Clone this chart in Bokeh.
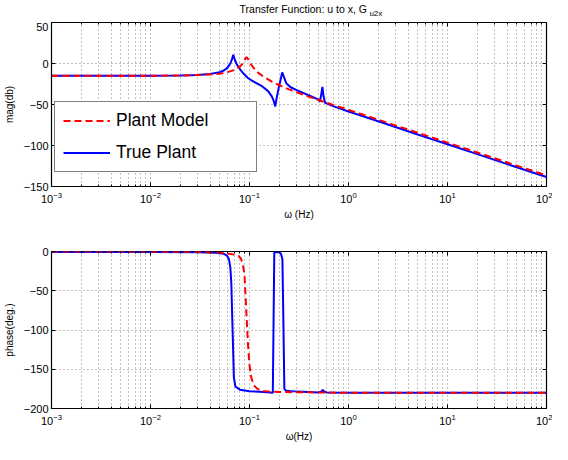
from bokeh.plotting import figure
from bokeh.models import (Range1d, FixedTicker, LogAxis, LinearAxis,
                          Legend, LegendItem, ColumnDataSource)
from bokeh.core.properties import value
from bokeh.layouts import column
from bokeh.embed import file_html
from bokeh.resources import INLINE

FONT = "Liberation Sans"

# ---------------- data ----------------
X_TICKS = [1e-3, 1e-2, 1e-1, 1e0, 1e1, 1e2]
MAG_TICKS = [-150, -100, -50, 0, 50]
PHASE_TICKS = [-200, -150, -100, -50, 0]

TITLE_MAIN = "Transfer Function:  u to x, G"
TITLE_SUB = "u2x"

model_mag_f = [0.001, 0.01, 0.02, 0.03, 0.04, 0.05, 0.06, 0.07, 0.08, 0.085,
               0.09, 0.0933, 0.097, 0.1, 0.11, 0.12, 0.14, 0.17, 0.2, 0.25,
               0.3, 0.4, 0.5, 0.7, 1, 2, 5, 10, 20, 50, 100]
model_mag_db = [-15, -15, -14.6, -14, -13.3, -12.4, -10.5, -8, -3.7, -0.5,
                5, 7.7, 5, 1.5, -5.5, -10.5, -16.5, -22.5, -26.5, -31.5,
                -35, -40.5, -44.5, -50.5, -56.5, -68.5, -84.5, -96.5, -108.5,
                -124.5, -136.5]

true_mag_f = [0.001, 0.01, 0.02, 0.03, 0.04, 0.05, 0.055, 0.06, 0.064, 0.0665,
              0.0685, 0.0705, 0.073, 0.077, 0.085, 0.097, 0.11, 0.135, 0.155,
              0.168, 0.176, 0.182, 0.188, 0.197, 0.207, 0.214, 0.222, 0.235,
              0.26, 0.3, 0.4, 0.5, 0.515, 0.53, 0.545, 0.56, 0.58, 0.7, 1, 2,
              5, 10, 20, 50, 100]
true_mag_db = [-15, -15, -14.7, -14.1, -12.8, -10.5, -8.5, -5, 0, 5,
               10.6, 6, 1, -4, -11, -18, -22, -28, -34,
               -40, -46, -52.5, -42, -30, -19, -10.8, -16, -24,
               -29, -32.5, -39, -44, -46.5, -38, -28.5, -40, -48, -52, -58.5,
               -70.5, -86.5, -98.5, -110.5, -126.5, -138.5]

model_ph_f = [0.001, 0.01, 0.03, 0.05, 0.06, 0.07, 0.078, 0.082, 0.086, 0.089,
              0.092, 0.0965, 0.1, 0.104, 0.11, 0.12, 0.134, 0.16, 0.2, 0.5, 1,
              100]
model_ph_deg = [0, -0.1, -0.5, -1.5, -2.5, -4, -6, -9, -18, -29,
                -66, -118, -145, -160, -170, -175, -177.5, -178.5, -179, -179.5,
                -180, -180]

true_ph_f = [0.001, 0.01, 0.03, 0.045, 0.055, 0.059, 0.062, 0.064, 0.0655,
             0.0675, 0.0695, 0.072, 0.08, 0.1, 0.14, 0.172, 0.175, 0.178, 0.2,
             0.208, 0.215, 0.22, 0.225, 0.235, 0.3, 0.5, 0.54, 0.55, 0.56,
             0.6, 1, 100]
true_ph_deg = [-0.5, -0.7, -1, -1.5, -3, -5, -10, -20, -40,
               -100, -160, -172, -176, -178, -179, -180, -90, -1, -1,
               -3, -10, -90, -175, -177.5, -178.5, -179.5, -178, -176, -178,
               -179.5, -180, -180]

MINOR_X = [d * k for d in X_TICKS[:-1] for k in range(2, 10)]

GRID_COLOR = "#555555"
W = 552


def make_fig(height, top, bottom, yr, yticks, ylabel, xlabel):
    p = figure(width=W, height=height, x_axis_type="log",
               x_range=Range1d(1e-3, 1e2), y_range=Range1d(*yr),
               output_backend="svg", toolbar_location=None,
               min_border_left=46, min_border_right=6,
               min_border_top=top, min_border_bottom=bottom)
    p.outline_line_color = "black"
    p.outline_line_width = 1.2

    xt = FixedTicker(ticks=X_TICKS, minor_ticks=MINOR_X)
    yt = FixedTicker(ticks=yticks)
    p.xaxis.ticker = xt
    p.yaxis.ticker = yt
    p.xgrid.ticker = xt
    p.ygrid.ticker = yt

    for g in (p.xgrid, p.ygrid):
        g.grid_line_color = GRID_COLOR
        g.grid_line_dash = "1 3"
        g.grid_line_width = 1
        g.grid_line_alpha = 0.75
    p.xgrid.minor_grid_line_color = GRID_COLOR
    p.xgrid.minor_grid_line_dash = "1 3"
    p.xgrid.minor_grid_line_alpha = 0.75

    for ax in (p.xaxis[0], p.yaxis[0]):
        ax.major_tick_in = 4
        ax.major_tick_out = 0
        ax.minor_tick_in = 2
        ax.minor_tick_out = 0
        ax.axis_line_color = "black"
        ax.major_tick_line_color = "black"
        ax.minor_tick_line_color = "black"
        ax.major_label_text_font = FONT
        ax.major_label_text_font_size = "11px"
        ax.major_label_text_color = "black"
        ax.axis_label_text_font = FONT
        ax.axis_label_text_font_size = "10px"
        ax.axis_label_text_font_style = "normal"
        ax.axis_label_text_color = "black"
    p.yaxis[0].minor_tick_line_color = None
    p.xaxis[0].major_label_standoff = 5
    p.yaxis[0].major_label_standoff = 3
    p.xaxis[0].axis_label_standoff = 3
    p.yaxis[0].axis_label_standoff = 6
    p.xaxis[0].axis_label = xlabel
    p.yaxis[0].axis_label = ylabel

    # mirrored inner ticks on the right and top edges (MATLAB box style)
    ax_r = LinearAxis(ticker=yt, major_label_text_font_size="1px",
                      major_label_text_alpha=0, major_label_standoff=0,
                      major_tick_in=4, major_tick_out=0,
                      minor_tick_line_color=None, axis_line_color=None)
    p.add_layout(ax_r, "right")
    ax_t = LogAxis(ticker=xt, major_label_text_font_size="1px",
                   major_label_text_alpha=0, major_label_standoff=0,
                   major_tick_in=4, major_tick_out=0,
                   minor_tick_in=2, minor_tick_out=0, axis_line_color=None)
    p.add_layout(ax_t, "above")
    return p


# ---------------- title strip ----------------
pt = figure(width=W, height=22, x_range=Range1d(0, W), y_range=Range1d(0, 22),
            output_backend="svg", toolbar_location=None,
            x_axis_location=None, y_axis_location=None, min_border=0)
pt.outline_line_color = None
pt.grid.visible = False
pt.text(x=[355], y=[13.5], text=[TITLE_MAIN], text_font=value(FONT),
        text_font_size="10.5px", text_align="right",
        text_baseline="alphabetic", text_color="black")
pt.text(x=[354.5], y=[9], text=[TITLE_SUB], text_font=value(FONT),
        text_font_size="8px", text_align="left",
        text_baseline="alphabetic", text_color="black")

# ---------------- magnitude plot ----------------
p1 = make_fig(204, 0, 40, (-150, 50), MAG_TICKS, "mag(db)", "ω (Hz)")
src_tm = ColumnDataSource(dict(f=true_mag_f, v=true_mag_db))
src_mm = ColumnDataSource(dict(f=model_mag_f, v=model_mag_db))
rb1 = p1.line("f", "v", source=src_tm, line_color="#0000ff", line_width=2)
rr1 = p1.line("f", "v", source=src_mm, line_color="#ff0000", line_width=2,
              line_dash="7 4")

legend = Legend(items=[LegendItem(label="Plant Model", renderers=[rr1]),
                       LegendItem(label="True Plant", renderers=[rb1])],
                location=(3, 14), padding=8, spacing=11, margin=0,
                glyph_width=47, glyph_height=21, label_height=21,
                label_width=132, label_standoff=6,
                label_text_font=FONT, label_text_font_size="17.5px",
                label_text_color="black",
                border_line_color="black", border_line_width=1.5,
                background_fill_color="white", background_fill_alpha=1)
p1.add_layout(legend)

# ---------------- phase plot ----------------
p2 = make_fig(218, 25, 29, (-200, 0), PHASE_TICKS, "phase(deg.)", "ω(Hz)")
src_tp = ColumnDataSource(dict(f=true_ph_f, v=true_ph_deg))
src_mp = ColumnDataSource(dict(f=model_ph_f, v=model_ph_deg))
p2.line("f", "v", source=src_tp, line_color="#0000ff", line_width=2)
p2.line("f", "v", source=src_mp, line_color="#ff0000", line_width=2,
        line_dash="7 4")

layout = column(pt, p1, p2, spacing=0)
open("out.html", "w").write(file_html(layout, INLINE))
